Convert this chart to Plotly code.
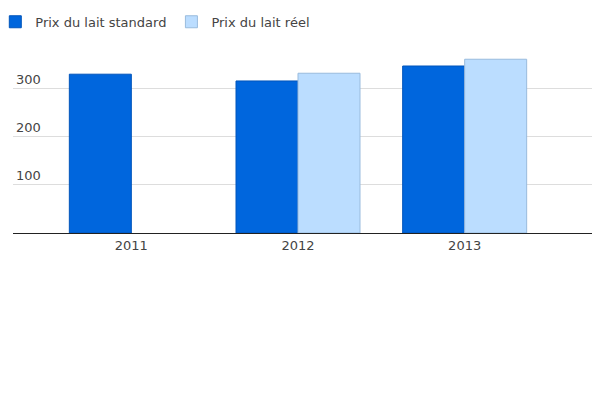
import plotly.graph_objects as go

years = ["2011", "2012", "2013"]
standard = [329, 315, 346]
reel = [None, 331, 360]

fig = go.Figure()
fig.add_bar(x=years, y=standard, name="Prix du lait standard",
            marker=dict(color="#0066dd", line=dict(color="#0055bb", width=1)))
fig.add_bar(x=years, y=reel, name="Prix du lait réel",
            marker=dict(color="#bbddff", line=dict(color="#99bbdd", width=1)))
fig.update_layout(
    width=600, height=400, barmode="group", bargap=0.256, bargroupgap=0,
    margin=dict(l=5, r=5, t=30, b=175, autoexpand=False),
    plot_bgcolor="white", paper_bgcolor="white",
    font=dict(family="DejaVu Sans", size=13, color="#444"),
    legend=dict(orientation="h", x=-0.03, y=1.16, xanchor="left", yanchor="top",
                font=dict(size=13), itemwidth=30, tracegroupgap=0),
    xaxis=dict(type="category", range=[-0.71, 2.83], showline=True, automargin=False,
               linecolor="#222", linewidth=1, ticks="", showgrid=False),
    yaxis=dict(range=[0, 404], tickvals=[100, 200, 300], showgrid=True, automargin=False,
               gridcolor="#dddddd", zeroline=False, ticklabelposition="inside top",
               showticklabels=True),
)
fig.write_html("out.html")
